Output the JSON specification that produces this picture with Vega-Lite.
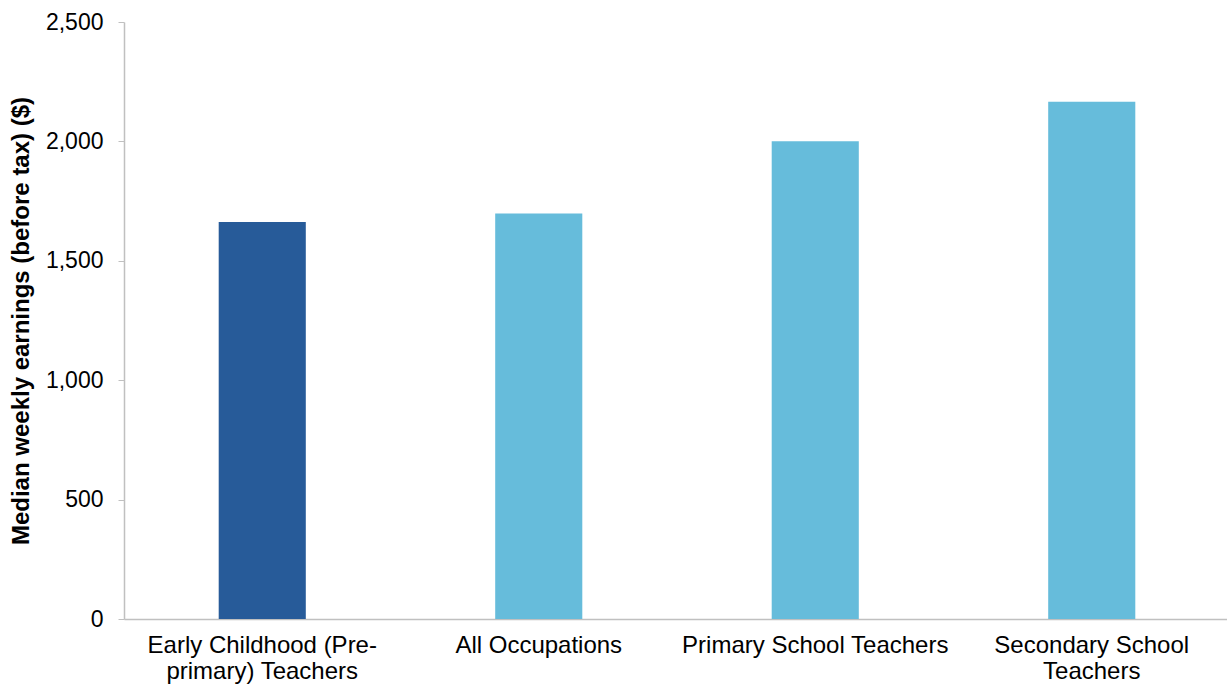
{
  "$schema": "https://vega.github.io/schema/vega-lite/v6.json",
  "width": 1106,
  "height": 597,
  "autosize": {"type": "none"},
  "padding": {"left": 124, "top": 22, "right": 0, "bottom": 67},
  "background": "white",
  "config": {
    "view": {"stroke": null},
    "font": "Liberation Sans"
  },
  "data": {
    "values": [
      {"occupation": "Early Childhood (Pre-|primary) Teachers", "earnings": 1662, "group": "ec"},
      {"occupation": "All Occupations", "earnings": 1698, "group": "other"},
      {"occupation": "Primary School Teachers", "earnings": 2001, "group": "other"},
      {"occupation": "Secondary School|Teachers", "earnings": 2166, "group": "other"}
    ]
  },
  "mark": {"type": "bar"},
  "encoding": {
    "x": {
      "field": "occupation",
      "type": "nominal",
      "sort": null,
      "scale": {"paddingInner": 0.685, "paddingOuter": 0.3425},
      "axis": {
        "title": null,
        "labelAngle": 0,
        "labelExpr": "split(datum.label, '|')",
        "labelFontSize": 24,
        "labelColor": "#000000",
        "labelPadding": 14,
        "labelLineHeight": 26,
        "labelLimit": 0,
        "ticks": false,
        "domainColor": "#c0c0c0",
        "domainWidth": 1.5
      }
    },
    "y": {
      "field": "earnings",
      "type": "quantitative",
      "scale": {"domain": [0, 2500]},
      "axis": {
        "title": "Median weekly earnings (before tax) ($)",
        "titleFontSize": 24,
        "titleFontWeight": "bold",
        "titleColor": "#000000",
        "titlePadding": 12,
        "values": [0, 500, 1000, 1500, 2000, 2500],
        "format": ",d",
        "labelFontSize": 23,
        "labelColor": "#000000",
        "labelPadding": 15,
        "grid": false,
        "tickColor": "#c0c0c0",
        "tickSize": 6,
        "domainColor": "#c0c0c0",
        "domainWidth": 1.5
      }
    },
    "color": {
      "field": "group",
      "type": "nominal",
      "scale": {"domain": ["ec", "other"], "range": ["#275B99", "#66BCDB"]},
      "legend": null
    }
  }
}
